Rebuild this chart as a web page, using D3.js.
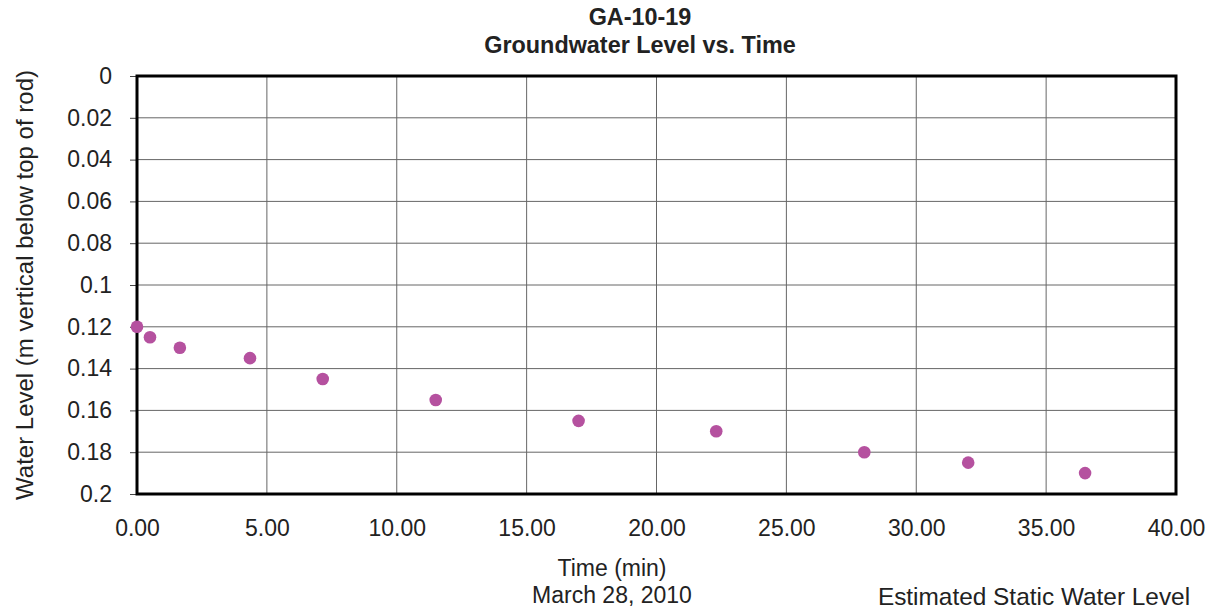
<!DOCTYPE html>
<html><head><meta charset="utf-8">
<script src="https://cdn.jsdelivr.net/npm/d3@7"></script>
<style>body{margin:0;background:#fff;}svg{display:block;font-family:"Liberation Sans",Arial,sans-serif;}</style>
</head><body>
<svg id="c" width="1210" height="610"></svg>
<script>
const timeMin = [0, 0.5, 1.65, 4.35, 7.15, 11.5, 17.0, 22.3, 28.0, 32.0, 36.5];
const waterLevel = [0.12, 0.125, 0.13, 0.135, 0.145, 0.155, 0.165, 0.17, 0.18, 0.185, 0.19];
const xTicks = [0, 5, 10, 15, 20, 25, 30, 35, 40];
const yTicks = [0, 0.02, 0.04, 0.06, 0.08, 0.1, 0.12, 0.14, 0.16, 0.18, 0.2];

const svg = d3.select("#c");
const L = 137, R = 1176, T = 76, B = 494;
const x = d3.scaleLinear().domain([0, 40]).range([L, R]);
const y = d3.scaleLinear().domain([0, 0.2]).range([T, B]);
const FS = 23;

// gridlines
svg.append("g").selectAll("line").data(yTicks).join("line")
  .attr("x1", L).attr("x2", R).attr("y1", d => y(d)).attr("y2", d => y(d))
  .attr("stroke", "#666").attr("stroke-width", 1);
svg.append("g").selectAll("line").data(xTicks).join("line")
  .attr("y1", T).attr("y2", B).attr("x1", d => x(d)).attr("x2", d => x(d))
  .attr("stroke", "#666").attr("stroke-width", 1);

// y axis
const yAxis = d3.axisLeft(y).tickValues(yTicks).tickSize(7).tickPadding(18)
  .tickFormat(d => String(+d.toFixed(2)));
const gy = svg.append("g").attr("transform", `translate(${L},0)`).call(yAxis);
gy.select(".domain").remove();
gy.selectAll("line").attr("stroke", "#444");
gy.selectAll("text").attr("font-size", FS).attr("fill", "#222").attr("font-family", "Liberation Sans, Arial, sans-serif");

// x axis
const xAxis = d3.axisBottom(x).tickValues(xTicks).tickSize(0).tickPadding(26)
  .tickFormat(d3.format(".2f"));
const gx = svg.append("g").attr("transform", `translate(0,${B})`).call(xAxis);
gx.select(".domain").remove();
gx.selectAll("text").attr("font-size", FS).attr("fill", "#222").attr("font-family", "Liberation Sans, Arial, sans-serif");

// frame
svg.append("rect").attr("x", L).attr("y", T).attr("width", R - L).attr("height", B - T)
  .attr("fill", "none").attr("stroke", "#000").attr("stroke-width", 3);

// points
svg.append("g").selectAll("circle").data(timeMin).join("circle")
  .attr("cx", d => x(d)).attr("cy", (d, i) => y(waterLevel[i])).attr("r", 6.3)
  .attr("fill", "#b5519f");

// titles
svg.append("text").attr("x", 640).attr("y", 25).attr("text-anchor", "middle")
  .attr("font-size", 23.4).attr("font-weight", "bold").attr("fill", "#222").text("GA-10-19");
svg.append("text").attr("x", 640).attr("y", 53).attr("text-anchor", "middle")
  .attr("font-size", 23.4).attr("font-weight", "bold").attr("fill", "#222").text("Groundwater Level vs. Time");

svg.append("text").attr("transform", "translate(33,285) rotate(-90)").attr("text-anchor", "middle")
  .attr("font-size", 24).attr("fill", "#222").text("Water Level (m vertical below top of rod)");

svg.append("text").attr("x", 612).attr("y", 576).attr("text-anchor", "middle")
  .attr("font-size", FS).attr("fill", "#222").text("Time (min)");
svg.append("text").attr("x", 612).attr("y", 603).attr("text-anchor", "middle")
  .attr("font-size", FS).attr("fill", "#222").text("March 28, 2010");
svg.append("text").attr("x", 1034).attr("y", 605).attr("text-anchor", "middle")
  .attr("font-size", 24.4).attr("fill", "#222").text("Estimated Static Water Level");
</script>
</body></html>
